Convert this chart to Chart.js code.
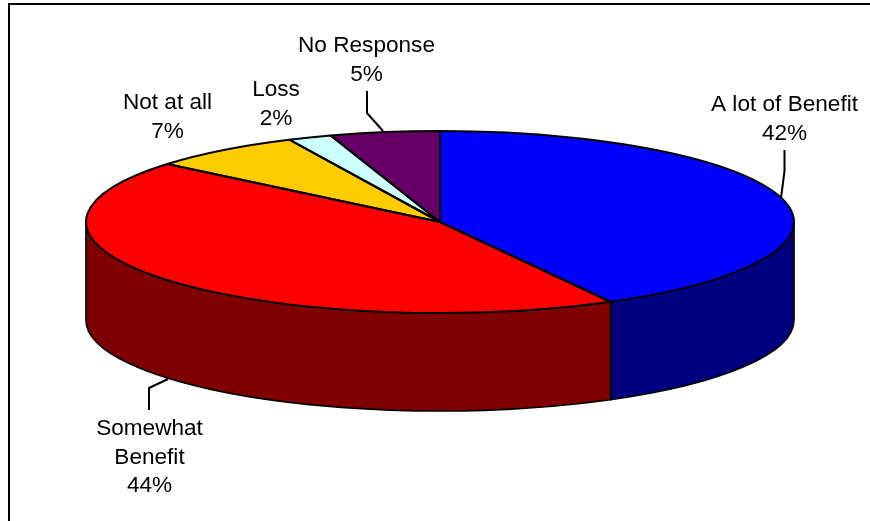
<!DOCTYPE html>
<html>
<head>
<meta charset="utf-8">
<title>Benefit pie</title>
<style>
  html, body { margin: 0; padding: 0; background: #fff; }
  canvas { display: block; }
</style>
<script src="https://cdn.jsdelivr.net/npm/chart.js@4"></script>
</head>
<body>
<canvas id="pie3d" width="870" height="521"></canvas>
<script>
// Data
const categories = ['A lot of Benefit', 'Somewhat Benefit', 'Not at all', 'Loss', 'No Response'];
const shares = [42, 44, 7, 2, 5];
const topColors = ['#0000ff', '#ff0000', '#ffcc00', '#ccffff', '#660066'];
const sideColors = ['#000080', '#800000', '#806600', '#668080', '#330033'];

// Label text lines, split the way the original wraps them
const labelLines = [['A lot of Benefit'], ['Somewhat', 'Benefit'], ['Not at all'], ['Loss'], ['No Response']];

// Layout of the tilted disc (pixels)
const disc = { cx: 440, cy: 222, rx: 354, ry: 91, depth: 98 };
const FONT = '22.6px "Liberation Sans", Arial, sans-serif';
const LINE_H = 28.5;

// Centre x and first baseline of every label, same order as categories
const labelAnchor = [[784.5, 111], [149.5, 435], [167.5, 109], [276, 96], [366.5, 52]];
// Leader lines
const leaders = [
  [[784.5, 150], [784.5, 171], [781, 198]],
  [[149, 410], [149, 388], [168, 379]],
  null,
  null,
  [[367, 91], [367, 113], [383, 131]]
];

function drawWalls(chart) {
  const ctx = chart.ctx;
  const { cx, cy, rx, ry, depth } = disc;
  chart.getDatasetMeta(0).data.forEach((arc, i) => {
    // only the part facing the viewer has a visible wall
    const s = Math.max(arc.startAngle, 0);
    const e = Math.min(arc.endAngle, Math.PI);
    if (e <= s) return;
    ctx.beginPath();
    ctx.ellipse(cx, cy + depth, rx, ry, 0, s, e);
    ctx.ellipse(cx, cy, rx, ry, 0, e, s, true);
    ctx.closePath();
    ctx.fillStyle = sideColors[i];
    ctx.fill();
    ctx.lineWidth = 1.7;
    ctx.strokeStyle = '#000';
    ctx.lineJoin = 'round';
    ctx.stroke();
  });
}

// Squash the library's round pie into the tilted disc, walls go underneath
const tiltPlugin = {
  id: 'tilt',
  beforeDraw(chart) {
    const ctx = chart.ctx;
    ctx.fillStyle = '#000';
    ctx.fillRect(8, 3, 862, 2);
    ctx.fillRect(8, 3, 2, 518);
  },
  beforeDatasetsDraw(chart) {
    drawWalls(chart);
    const ctx = chart.ctx;
    const arc = chart.getDatasetMeta(0).data[0];
    const R = arc.outerRadius;
    ctx.save();
    ctx.translate(disc.cx, disc.cy);
    ctx.scale(disc.rx / R, disc.ry / R);
    ctx.translate(-arc.x, -arc.y);
  },
  afterDatasetsDraw(chart) {
    const ctx = chart.ctx;
    ctx.restore();
    const { cx, cy, rx, ry } = disc;

    // slice outlines stay an even width, so they are stroked untransformed
    ctx.strokeStyle = '#000';
    ctx.lineWidth = 2;
    ctx.lineJoin = 'round';
    chart.getDatasetMeta(0).data.forEach(arc => {
      ctx.beginPath();
      ctx.moveTo(cx, cy);
      ctx.ellipse(cx, cy, rx, ry, 0, arc.startAngle, arc.endAngle);
      ctx.closePath();
      ctx.stroke();
    });

    // leaders
    leaders.forEach(pts => {
      if (!pts) return;
      ctx.beginPath();
      pts.forEach((p, k) => k ? ctx.lineTo(p[0], p[1]) : ctx.moveTo(p[0], p[1]));
      ctx.stroke();
    });

    // labels
    ctx.fillStyle = '#000';
    ctx.font = FONT;
    ctx.textAlign = 'center';
    ctx.textBaseline = 'alphabetic';
    categories.forEach((name, i) => {
      const lines = labelLines[i].concat(shares[i] + '%');
      lines.forEach((t, k) => {
        ctx.fillText(t, labelAnchor[i][0], labelAnchor[i][1] + k * LINE_H);
      });
    });
  }
};

new Chart(document.getElementById('pie3d'), {
  type: 'pie',
  data: {
    labels: categories,
    datasets: [{
      data: shares,
      backgroundColor: topColors,
      borderWidth: 0,
      clip: false
    }]
  },
  options: {
    responsive: false,
    animation: false,
    events: [],
    plugins: {
      legend: { display: false },
      tooltip: { enabled: false }
    }
  },
  plugins: [tiltPlugin]
});
</script>
</body>
</html>
